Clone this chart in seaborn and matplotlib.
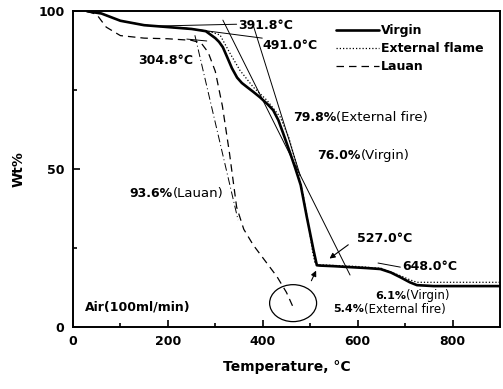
import numpy as np
import pandas as pd
import seaborn as sns
import matplotlib
matplotlib.use("Agg")
import matplotlib.pyplot as plt
from matplotlib.patches import Ellipse
from matplotlib.ticker import MultipleLocator

# TGA curves (temperature in C, weight %)
virgin_t = [30, 60, 100, 150, 200, 250, 280, 300, 308, 316, 325, 335, 346, 356, 367, 380,
            394, 410, 422, 433, 443, 458, 468, 480, 493, 507, 514, 520, 550, 584, 620, 648,
            670, 690, 710, 725, 760, 900]
virgin_w = [100, 99.3, 97, 95.6, 95, 94.4, 93.7, 91.5, 90.3, 88.6, 85.5, 82, 79, 77.3, 76, 74.5,
            72.8, 70.6, 68.7, 65.5, 61.4, 55, 50.6, 45, 34.8, 24.4, 19.6, 19.5, 19.3, 19, 18.7, 18.4,
            17.3, 15.8, 14.2, 13.3, 13, 13]

flame_t = [30, 60, 100, 150, 200, 250, 290, 310, 331, 352, 380, 409, 437, 455, 470, 485,
           497, 505, 510, 515, 540, 600, 650, 690, 710, 725, 760, 900]
flame_w = [100, 99.3, 97, 95.6, 95, 94.4, 93.5, 92.5, 86.7, 81.3, 76, 71.8, 66.5, 60, 52, 42,
           32, 24, 20.5, 19.8, 19.6, 19.2, 18.6, 16.3, 15, 14.2, 14.2, 14.2]

lauan_t = [30, 50, 70, 100, 150, 200, 250, 270, 285, 300, 315, 330, 345, 360, 380, 400, 430, 450, 465]
lauan_w = [100, 99, 95, 92.3, 91.5, 91.3, 90.8, 90, 87, 81, 70, 55, 38, 31, 26, 22, 16, 11, 6]

# onset tangent lines (two points each)
tangents = {
    "A": ([316, 584], [97.2, 16.5]),
    "B": ([169, 345], [95.3, 95.9]),
    "C": ([226, 399], [94.9, 91.5]),
    "D": ([378, 479], [96.5, 48]),
    "E": ([240, 282], [91.2, 90.6]),
}
lauan_tangent = ([257, 348], [92.4, 33.9])

sns.set_style("ticks")
plt.rcParams["font.family"] = ["DejaVu Sans"]
plt.rcParams["font.size"] = 9
plt.rcParams["text.color"] = "black"
plt.rcParams["axes.labelcolor"] = "black"
plt.rcParams["xtick.color"] = "black"
plt.rcParams["ytick.color"] = "black"

fig = plt.figure(figsize=(5.03, 3.89), dpi=100)
ax = fig.add_axes([0.145, 0.159, 0.849, 0.812])

sns.lineplot(x=virgin_t, y=virgin_w, ax=ax, color="black", lw=1.9, sort=False,
             estimator=None, label="Virgin")
sns.lineplot(x=flame_t, y=flame_w, ax=ax, color="black", lw=0.9, sort=False,
             estimator=None, label="External flame", linestyle=(0, (1, 1.6)))
sns.lineplot(x=lauan_t, y=lauan_w, ax=ax, color="black", lw=0.9, sort=False,
             estimator=None, label="Lauan", linestyle=(0, (6, 4)))

for xs, ys in tangents.values():
    ax.plot(xs, ys, color="black", lw=0.7)
ax.plot(lauan_tangent[0], lauan_tangent[1], color="black", lw=0.7, linestyle=(0, (8, 3, 1, 3)))

ax.set_xlim(0, 900)
ax.set_ylim(0, 100)
ax.xaxis.set_major_locator(MultipleLocator(200))
ax.xaxis.set_minor_locator(MultipleLocator(100))
ax.yaxis.set_major_locator(MultipleLocator(50))
ax.yaxis.set_minor_locator(MultipleLocator(25))
ax.tick_params(which="both", direction="in", width=1.2, colors="black")
ax.tick_params(which="major", length=5, pad=6)
ax.tick_params(which="minor", length=3)
for lab in ax.get_xticklabels() + ax.get_yticklabels():
    lab.set_fontweight("bold")
for sp in ax.spines.values():
    sp.set_visible(True)
    sp.set_linewidth(1.4)
    sp.set_color("black")

ax.set_xlabel("Temperature, °C", fontweight="bold", fontsize=10, labelpad=8)
ax.set_ylabel("Wt%", fontweight="bold", fontsize=10, labelpad=9)

leg = ax.legend(loc="upper left", bbox_to_anchor=(0.605, 0.975), frameon=False,
                handlelength=3.4, handletextpad=0.2, labelspacing=0.4,
                borderaxespad=0, prop={"weight": "bold", "size": 9})


def note(x, y, bold, regular=None, size=9):
    t = ax.text(x, y, bold, fontweight="bold", va="center", ha="left", fontsize=size)
    if regular:
        ax.annotate(regular, xy=(1, 0.5), xycoords=t, va="center", ha="left",
                    fontsize=size + 0.5)
    return t


note(348, 95.6, "391.8°C")
note(399, 89.2, "491.0°C")
note(137, 84.5, "304.8°C")
note(464, 66.5, "79.8%", "(External fire)")
note(515, 54.4, "76.0%", "(Virgin)")
note(120, 42.4, "93.6%", "(Lauan)")
note(599, 28.2, "527.0°C")
note(694, 19.3, "648.0°C")
note(637, 10.0, "6.1%", "(Virgin)", size=8)
note(548, 5.6, "5.4%", "(External fire)", size=8)
note(25, 6.3, "Air(100ml/min)")

ax.annotate("", xy=(536, 21.2), xytext=(585, 26.6),
            arrowprops=dict(arrowstyle="-|>", color="black", lw=0.8, mutation_scale=8))
ax.annotate("", xy=(515, 18.7), xytext=(500, 13.9),
            arrowprops=dict(arrowstyle="-|>", color="black", lw=0.8, mutation_scale=8))
ax.plot([643, 690], [20.3, 19.0], color="black", lw=0.7)
ax.add_patch(Ellipse((464, 7.6), 99, 11.7, fill=False, color="black", lw=0.9))

fig.savefig("out.png", dpi=100)
